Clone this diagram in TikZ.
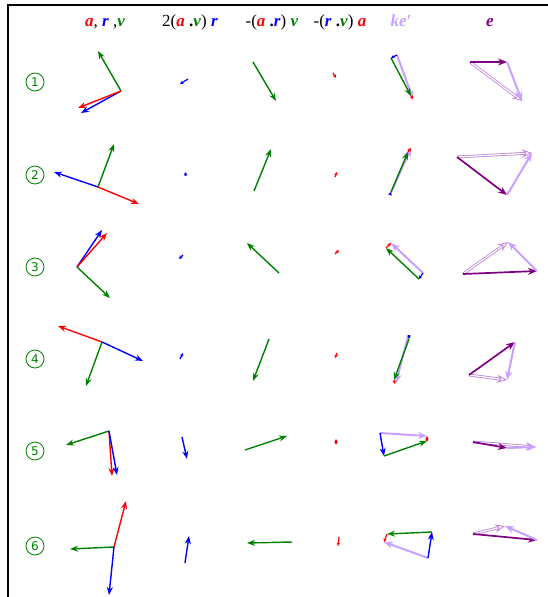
\documentclass[tikz,border=0pt]{standalone}
\usepackage{fontspec}
\setmainfont{Liberation Serif}
\newfontfamily\circfont{DejaVu Sans}
\usetikzlibrary{arrows.meta}
\definecolor{vred}{RGB}{255,0,0}
\definecolor{vblue}{RGB}{0,0,255}
\definecolor{vgreen}{RGB}{0,128,0}
\definecolor{vpurple}{RGB}{128,0,128}
\definecolor{vlav}{RGB}{200,160,255}
\definecolor{vorch}{RGB}{190,130,215}
\tikzset{
  vec/.style={line width=1.4pt,-{Stealth[length=8pt,width=6pt]}},
  sm/.style={line width=1.2pt,-{Stealth[length=3.5pt,width=3.5pt]}},
  kvec/.style={vlav,line width=2pt,-{Stealth[length=9pt,width=7pt]}},
  evec/.style={vpurple,line width=1.7pt,-{Stealth[length=9pt,width=7pt]}},
  dvec/.style={vorch,double=white,double distance=1.2pt,line width=0.8pt,-{Stealth[open,length=10pt,width=8pt]}},
  circ/.style={circle,draw=vgreen,line width=0.8pt,minimum size=18pt,inner sep=0pt,text=vgreen,font=\circfont\fontsize{12}{12}\selectfont},
  hdr/.style={font=\fontsize{17}{19}\selectfont,anchor=base},
}
\newcommand\BR[1]{\textcolor{vred}{\textbf{\textit{#1}}}}
\newcommand\BB[1]{\textcolor{vblue}{\textbf{\textit{#1}}}}
\newcommand\BG[1]{\textcolor{vgreen}{\textbf{\textit{#1}}}}
\begin{document}
\begin{tikzpicture}[x=1pt,y=-1pt]
\useasboundingbox (0,0) rectangle (548,597);
\draw[line width=2pt] (8,597) -- (8,5) -- (548,5);
% header
\node[hdr] (h1) at (105,26) {\BR{a}, \BB{r} ,\BG{v}};
\node[hdr] (h2) at (190,26) {2(\BR{a} \textbf{.}\BG{v}) \BB{r}};
\node[hdr] (h3) at (272,26) {-(\BR{a} \textbf{.}\BB{r}) \BG{v}};
\node[hdr] (h4) at (340,26) {-(\BB{r} \textbf{.}\BG{v}) \BR{a}};
\node[hdr] (h5) at (401,26) {\textcolor{vlav}{\textbf{\textit{ke′}}}};
\node[hdr] (h6) at (490,26) {\textcolor{vpurple}{\textbf{\textit{e}}}};
% row labels
\node[circ] (c1) at (35,82) {1};
\node[circ] (c2) at (35,175) {2};
\node[circ] (c3) at (35,267) {3};
\node[circ] (c4) at (35,359) {4};
\node[circ] (c5) at (35,451) {5};
\node[circ] (c6) at (35,546) {6};
% ---------- row 1
\draw[vec,vgreen] (121,91) -- (98,51);
\draw[vec,vblue] (121,91) -- (81,113);
\draw[vec,vred] (121,91) -- (78,108);
\draw[sm,vblue] (188,79) -- (180,84);
\draw[vec,vgreen] (253,62) -- (276,101);
\draw[sm,vred] (333,73) -- (336,78);
\draw[kvec] (397,55) -- (413,99);
\draw[sm,vblue] (397,55) -- (391,58);
\draw[vec,vgreen] (391,58) -- (411,96);
\draw[sm,vred] (411,96) -- (413,99);
\draw[dvec] (470,62) -- (522,101);
\draw[evec] (470,62) -- (507,62);
\draw[kvec] (507,62) -- (522,101);
% ---------- row 2
\draw[vec,vgreen] (98,187) -- (114,144);
\draw[vec,vblue] (98,187) -- (54,172);
\draw[vec,vred] (98,187) -- (139,204);
\draw[sm,vblue] (186,176) -- (185,172);
\draw[vec,vgreen] (254,191) -- (271,149);
\draw[sm,vred] (335,177) -- (337,172);
\draw[kvec] (390,195) -- (411,148);
\draw[sm,vblue] (390,195) -- (391,192);
\draw[vec,vgreen] (391,192) -- (408,152);
\draw[sm,vred] (408,152) -- (411,148);
\draw[dvec] (457,157) -- (532,153);
\draw[evec] (457,157) -- (507,195);
\draw[kvec] (507,195) -- (532,153);
% ---------- row 3
\draw[vec,vgreen] (77,267) -- (110,298);
\draw[vec,vblue] (77,267) -- (102,230);
\draw[vec,vred] (77,267) -- (107,233);
\draw[sm,vblue] (183,255) -- (179,259);
\draw[vec,vgreen] (279,273) -- (247,243);
\draw[sm,vred] (335,254) -- (339,250);
\draw[kvec] (423,273) -- (391,243);
\draw[sm,vblue] (423,273) -- (419,279);
\draw[vec,vgreen] (419,279) -- (386,248);
\draw[sm,vred] (386,248) -- (391,243);
\draw[dvec] (463,274) -- (508,242);
\draw[evec] (463,274) -- (537,271);
\draw[kvec] (537,271) -- (508,242);
% ---------- row 4
\draw[vec,vred] (102,342) -- (58,326);
\draw[vec,vblue] (102,342) -- (143,361);
\draw[vec,vgreen] (102,342) -- (86,386);
\draw[sm,vblue] (180,359) -- (183,353);
\draw[vec,vgreen] (269,339) -- (253,381);
\draw[sm,vred] (337,353) -- (335,358);
\draw[kvec] (408,336) -- (396,383);
\draw[sm,vblue] (409,335) -- (409,339);
\draw[vec,vgreen] (409,339) -- (394,380);
\draw[sm,vred] (394,380) -- (395,384);
\draw[dvec] (469,375) -- (507,380);
\draw[evec] (469,375) -- (515,342);
\draw[kvec] (515,342) -- (507,380);
% ---------- row 5
\draw[vec,vgreen] (109,431) -- (66,445);
\draw[vec,vred] (109,431) -- (112,476);
\draw[vec,vblue] (109,431) -- (117,475);
\draw[vec,vblue] (182,437) -- (187,459);
\draw[vec,vgreen] (245,450) -- (287,436);
\draw[sm,vred] (336,444) -- (336,439);
\draw[kvec] (380,433) -- (427,436);
\draw[vec,vblue] (380,433) -- (384,456);
\draw[vec,vgreen] (384,456) -- (427,441);
\draw[sm,vred] (427,441) -- (427,436);
\draw[dvec] (473,442) -- (536,447);
\draw[evec] (473,442) -- (507,448);
\draw[kvec] (507,448) -- (536,447);
% ---------- row 6
\draw[vec,vgreen] (114,547) -- (70,549);
\draw[vec,vred] (114,547) -- (126,501);
\draw[vec,vblue] (114,547) -- (109,595);
\draw[vec,vblue] (185,563) -- (189,536);
\draw[vec,vgreen] (292,542) -- (247,543);
\draw[sm,vred] (339,537) -- (338,546);
\draw[kvec] (428,558) -- (384,542);
\draw[vec,vblue] (428,558) -- (432,532);
\draw[vec,vgreen] (432,532) -- (387,534);
\draw[sm,vred] (387,534) -- (384,542);
\draw[dvec] (473,534) -- (505,526);
\draw[evec] (473,534) -- (537,540);
\draw[kvec] (537,540) -- (505,526);
\end{tikzpicture}
\end{document}
